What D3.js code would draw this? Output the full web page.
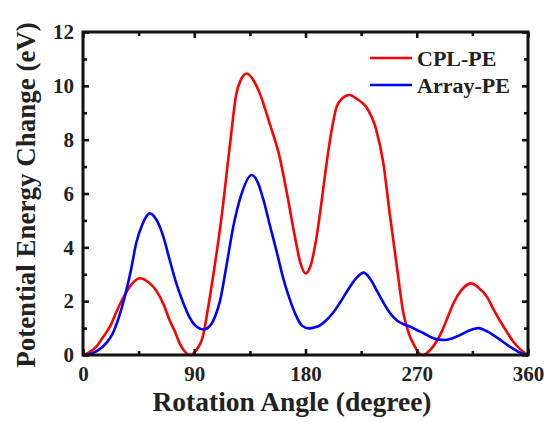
<!DOCTYPE html>
<html>
<head>
<meta charset="utf-8">
<script src="https://cdn.jsdelivr.net/npm/d3@7"></script>
<style>
  html, body { margin: 0; padding: 0; background: #fff; }
  svg { display: block; }
  text { font-family: "Liberation Serif", "Times New Roman", serif; font-weight: bold; fill: #222; }
</style>
</head>
<body>
<svg id="chart" width="549" height="422"></svg>
<script>
// Rotation angle (degree) sampled along each energy profile
const cplAngle = [0,5,11,16,22,27,32,38,46,53,59,65,70,75,78,82,86.5,91,97,101,105,112,119,124,128,132.5,138,143,151,159,165,171,176,180,184,189,193,197,201,205,210,215.5,222,229,237,243,248,254,259,264,268,272,275,280,286,290,295,300,306,314,320,327,332,337,343,348,354,360];
const cplEnergy = [0,0.1,0.32,0.65,1.07,1.6,2.08,2.55,2.85,2.7,2.41,1.9,1.3,0.8,0.45,0.15,0,0.15,0.7,1.7,2.85,5.1,7.86,9.7,10.25,10.46,10.2,9.72,8.6,7.37,6.0,4.5,3.4,3.03,3.3,4.4,5.7,7.1,8.3,9.2,9.55,9.66,9.5,9.22,8.4,7.12,5.3,3.25,1.6,0.75,0.35,0.06,0,0.15,0.5,0.85,1.4,1.95,2.4,2.66,2.5,2.15,1.7,1.3,0.85,0.5,0.2,0];

const arrayAngle = [0,7,13,19,24,29,34,39,43,48,54,59,65,70,75.5,81,86,92,97.5,103,107,111,116,121.6,128,136.5,141,146,151,157,162,167.5,172,177,183,187,192,197,202,208,216,222,227,232,237.5,243,248.5,254,259,265,270,276,282,287,293,299,305,311,316,320,326,332,338,344,350,355,360];
const arrayEnergy = [0,0.06,0.2,0.45,0.8,1.4,2.2,3.2,4.15,4.85,5.26,5.05,4.4,3.55,2.66,1.95,1.42,1.05,0.95,1.1,1.45,2.04,3.3,4.77,5.95,6.69,6.45,5.76,4.85,3.78,2.85,2.04,1.5,1.1,0.99,1.02,1.11,1.3,1.55,1.95,2.54,2.9,3.06,2.85,2.41,1.95,1.55,1.28,1.15,1.05,0.93,0.8,0.65,0.58,0.56,0.62,0.74,0.88,0.97,1.0,0.9,0.74,0.55,0.35,0.18,0.06,0];

const seriesNames = ["CPL-PE", "Array-PE"];
const seriesColors = ["#ff0000", "#0000ff"];

const xMajorTicks = [0, 90, 180, 270, 360];
const xMinorTicks = [45, 135, 225, 315];
const yMajorTicks = [0, 2, 4, 6, 8, 10, 12];
const yMinorTicks = [1, 3, 5, 7, 9, 11];

const xTitle = "Rotation Angle (degree)";
const yTitle = "Potential Energy Change (eV)";

const W = 549, H = 422;
const margin = { top: 32, right: 21, bottom: 67, left: 83 };
const iw = W - margin.left - margin.right;
const ih = H - margin.top - margin.bottom;

const svg = d3.select("#chart");
const g = svg.append("g").attr("transform", `translate(${margin.left},${margin.top})`);

const x = d3.scaleLinear().domain([0, 360]).range([0, iw]);
const y = d3.scaleLinear().domain([0, 12]).range([ih, 0]);

// curves
const series = [
  cplAngle.map((a, i) => [a, cplEnergy[i]]),
  arrayAngle.map((a, i) => [a, arrayEnergy[i]])
];
const line = d3.line().x(d => x(d[0])).y(d => y(d[1])).curve(d3.curveMonotoneX);

series.forEach((s, i) => {
  g.append("path")
    .datum(s)
    .attr("fill", "none")
    .attr("stroke", seriesColors[i])
    .attr("stroke-width", 2.6)
    .attr("stroke-linejoin", "round")
    .attr("d", line);
});

// axes: ticks pointing inward on all four sides
function styleAxis(sel) {
  sel.select(".domain").remove();
  sel.selectAll(".tick line").attr("stroke", "#111").attr("stroke-width", 2.6);
  sel.selectAll("text").style("font-size", "21px").attr("fill", "#222");
}

const major = 6, minor = 4;

const bottom = g.append("g").attr("transform", `translate(0,${ih})`)
  .call(d3.axisBottom(x).tickValues(xMajorTicks).tickSize(-major).tickPadding(major + 5).tickFormat(d3.format("d")));
styleAxis(bottom);
g.append("g").attr("transform", `translate(0,${ih})`)
  .call(d3.axisBottom(x).tickValues(xMinorTicks).tickSize(-minor).tickFormat(""))
  .call(styleAxis);

g.append("g")
  .call(d3.axisTop(x).tickValues(xMajorTicks).tickSize(-major).tickFormat(""))
  .call(styleAxis);
g.append("g")
  .call(d3.axisTop(x).tickValues(xMinorTicks).tickSize(-minor).tickFormat(""))
  .call(styleAxis);

const left = g.append("g")
  .call(d3.axisLeft(y).tickValues(yMajorTicks).tickSize(-major).tickPadding(major + 3).tickFormat(d3.format("d")));
styleAxis(left);
g.append("g")
  .call(d3.axisLeft(y).tickValues(yMinorTicks).tickSize(-minor).tickFormat(""))
  .call(styleAxis);

g.append("g").attr("transform", `translate(${iw},0)`)
  .call(d3.axisRight(y).tickValues(yMajorTicks).tickSize(-major).tickFormat(""))
  .call(styleAxis);
g.append("g").attr("transform", `translate(${iw},0)`)
  .call(d3.axisRight(y).tickValues(yMinorTicks).tickSize(-minor).tickFormat(""))
  .call(styleAxis);

// frame
g.append("rect")
  .attr("x", 0).attr("y", 0).attr("width", iw).attr("height", ih)
  .attr("fill", "none").attr("stroke", "#111").attr("stroke-width", 3);

// axis titles
svg.append("text")
  .attr("x", 292).attr("y", 411)
  .attr("text-anchor", "middle")
  .style("font-size", "27.5px")
  .text(xTitle);

svg.append("text")
  .attr("transform", `translate(35,195) rotate(-90)`)
  .attr("text-anchor", "middle")
  .style("font-size", "27px")
  .text(yTitle);

// legend
const legend = svg.append("g");
seriesNames.forEach((name, i) => {
  const ly = 58 + i * 27;
  legend.append("line")
    .attr("x1", 370).attr("x2", 412).attr("y1", ly).attr("y2", ly)
    .attr("stroke", seriesColors[i]).attr("stroke-width", 2.6);
  legend.append("text")
    .attr("x", 417).attr("y", ly).attr("dy", "0.35em")
    .style("font-size", "22px")
    .text(name);
});
</script>
</body>
</html>
